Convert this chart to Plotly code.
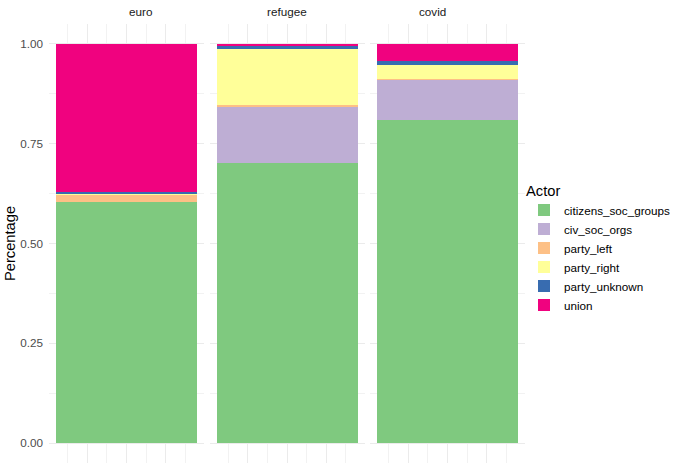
import plotly.graph_objects as go

facets = ["euro", "refugee", "covid"]
actors = ["citizens_soc_groups", "civ_soc_orgs", "party_left", "party_right", "party_unknown", "union"]
colors = ["#7FC97F", "#BEAED4", "#FDC086", "#FFFF99", "#386CB0", "#F0027F"]
# shares per facet, in actor order (bottom to top)
euro_vals = [0.604, 0.000, 0.020, 0.001, 0.004, 0.371]
refugee_vals = [0.702, 0.139, 0.005, 0.142, 0.008, 0.004]
covid_vals = [0.809, 0.101, 0.001, 0.037, 0.010, 0.042]
values = [euro_vals, refugee_vals, covid_vals]
y_ticks = [0, 0.25, 0.5, 0.75, 1.0]
y_tick_labels = ["0.00", "0.25", "0.50", "0.75", "1.00"]

W, H = 680, 472
ml, mr, mt, mb = 49, 155, 24, 9
pw = W - ml - mr
ph = H - mt - mb
panel_w = 155.0
step = 160.5
domains = [[i * step / pw, min((i * step + panel_w) / pw, 1.0)] for i in range(3)]

fig = go.Figure()
font = "Liberation Sans, Arial, sans-serif"
for fi, fname in enumerate(facets):
    ax = "" if fi == 0 else str(fi + 1)
    for ai, actor in enumerate(actors):
        fig.add_trace(go.Bar(
            x=[1], y=[values[fi][ai]], width=0.9,
            name=actor, legendgroup=actor, showlegend=(fi == 0),
            marker=dict(color=colors[ai], line=dict(width=0)),
            xaxis="x" + ax, yaxis="y" + ax,
            hovertemplate=fname + "<br>" + actor + ": %{y:.3f}<extra></extra>",
        ))

grid = "#EBEBEB"
layout = dict(
    width=W, height=H, barmode="stack", bargap=0,
    paper_bgcolor="white", plot_bgcolor="white",
    margin=dict(l=ml, r=mr, t=mt, b=mb, autoexpand=False),
    font=dict(family=font, color="#4D4D4D", size=11.7),
    legend=dict(
        title=dict(text="Actor", font=dict(size=14.7, color="black")),
        x=1.0 + (524 - W + mr) / pw, xanchor="left",
        y=0.5 - 5 / ph, yanchor="middle",
        font=dict(size=11.7, color="black"),
        traceorder="normal", itemwidth=30, tracegroupgap=0,
        bgcolor="rgba(0,0,0,0)",
    ),
    annotations=[],
)
for fi, fname in enumerate(facets):
    ax = "" if fi == 0 else str(fi + 1)
    layout["xaxis" + ax] = dict(
        domain=domains[fi], range=[0.505, 1.495],
        tickvals=[0.75, 1.0, 1.25], showticklabels=False, ticks="",
        showgrid=True, gridcolor=grid, gridwidth=1, zeroline=False, showline=False,
        minor=dict(tickvals=[0.625, 0.875, 1.125, 1.375], showgrid=True, gridcolor="#F2F2F2", gridwidth=1, ticks=""),
        anchor="y" + ax, fixedrange=True,
    )
    yd = dict(
        range=[-0.05, 1.05], tickvals=y_ticks, ticktext=y_tick_labels,
        showticklabels=(fi == 0), ticks="", showgrid=True, gridcolor=grid, gridwidth=1,
        zeroline=False, showline=False,
        minor=dict(tickvals=[0.125, 0.375, 0.625, 0.875], showgrid=True, gridcolor="#F2F2F2", gridwidth=1, ticks=""),
        anchor="x" + ax, fixedrange=True,
        tickfont=dict(size=11.7, color="#4D4D4D"),
        ticklabelstandoff=5,
    )
    if fi == 0:
        yd["title"] = dict(text="Percentage", font=dict(size=14.7, color="black"), standoff=1)
    else:
        yd["matches"] = "y"
    layout["yaxis" + ax] = yd
    layout["annotations"].append(dict(
        text=fname, x=(domains[fi][0] + domains[fi][1]) / 2, xref="paper",
        y=1.0, yref="paper", yshift=4, yanchor="bottom", showarrow=False,
        font=dict(size=11.7, color="#1A1A1A"),
    ))

fig.update_layout(**layout)
fig.write_html("out.html", config={"displayModeBar": False},
               post_script="document.body.style.margin='0';document.body.style.padding='0';")
